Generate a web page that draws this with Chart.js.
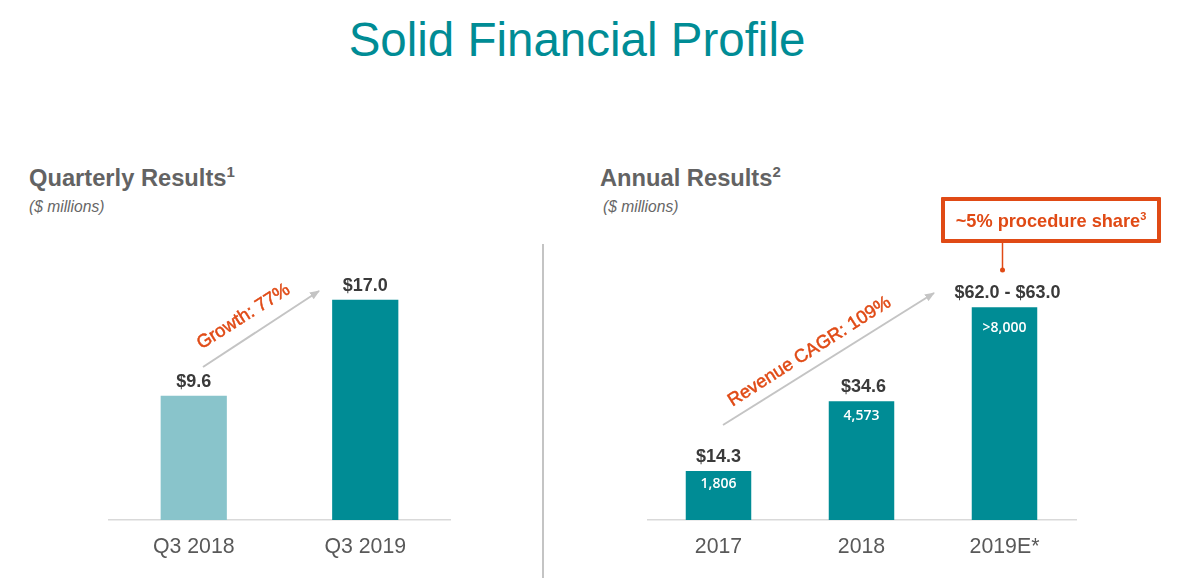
<!DOCTYPE html>
<html>
<head>
<meta charset="utf-8">
<title>Solid Financial Profile</title>
<script src="https://cdn.jsdelivr.net/npm/chart.js@4"></script>
<style>
    html, body { margin: 0; padding: 0; background: #fff; }
    body { position: relative; width: 1180px; height: 580px; overflow: hidden; font-family: 'Liberation Sans', Arial, sans-serif; }
    .abs { position: absolute; white-space: nowrap; }
    .title { left: 0; width: 1154px; top: 14px; text-align: center; font-size: 47.5px; line-height: 52px; color: #008c95; }
    .heading { top: 163px; font-size: 23.7px; line-height: 30px; font-weight: bold; color: #636363; -webkit-font-smoothing: antialiased; }
    .heading sup { font-size: 15px; font-weight: bold; line-height: 0; vertical-align: 9px; }
    .unit { top: 198px; font-size: 15.6px; line-height: 18px; font-style: italic; color: #666; }
    .divider { left: 542px; top: 244px; width: 2px; height: 334px; background: #c4c4c4; }
    .growth { font-size: 18.4px; line-height: 22px; color: #e04a15; transform: translate(-50%, -50%) rotate(-32.5deg); -webkit-text-stroke: 0.5px #e04a15; }
    .callout { left: 941px; top: 197px; width: 212px; height: 38px; border: 4px solid #e04a15; border-radius: 1px; font-size: 18.2px; line-height: 40px; font-weight: bold; color: #e04a15; text-align: center; }
    .callout sup { font-size: 11px; line-height: 0; vertical-align: 7px; }
    canvas { position: absolute; }
    svg { position: absolute; left: 0; top: 0; }
</style>
</head>
<body>
    <div class="abs title">Solid Financial Profile</div>

    <div class="abs heading" style="left:29px">Quarterly Results<sup>1</sup></div>
    <div class="abs unit" style="left:29px">($ millions)</div>
    <div class="abs heading" style="left:600px">Annual Results<sup>2</sup></div>
    <div class="abs unit" style="left:603px">($ millions)</div>

    <div class="abs divider"></div>

    <div style="position:absolute;left:108px;top:261px;width:343px;height:309px"><canvas id="quarterlyChart"></canvas></div>
    <div style="position:absolute;left:647px;top:261px;width:432px;height:309px"><canvas id="annualChart"></canvas></div>

    <svg width="1180" height="580">
        <defs>
            <marker id="arrowHead" markerWidth="10" markerHeight="8" refX="9" refY="4" orient="auto" markerUnits="userSpaceOnUse">
                <path d="M0,0 L10,4 L0,8 Z" fill="#c4c4c4"></path>
            </marker>
        </defs>
        <line x1="203" y1="367" x2="319" y2="291" stroke="#c4c4c4" stroke-width="2" marker-end="url(#arrowHead)"></line>
        <line x1="723" y1="425" x2="934" y2="293" stroke="#c4c4c4" stroke-width="2" marker-end="url(#arrowHead)"></line>
        <line x1="1002.5" y1="241" x2="1002.5" y2="270" stroke="#e04a15" stroke-width="1.5"></line>
        <circle cx="1002.5" cy="270" r="2.5" fill="#e04a15"></circle>
    </svg>

    <div class="abs growth" style="left:243px;top:316px">Growth: 77%</div>
    <div class="abs growth" style="left:809px;top:351px">Revenue CAGR: 109%</div>
    <div class="abs callout">~5% procedure share<sup>3</sup></div>

<script>
    // ── Data ────────────────────────────────────────────────────────────────────
    const quarterlyLabels = ['Q3 2018', 'Q3 2019'];
    const quarterlyValues = [9.6, 17.0];
    const quarterlyText   = ['$9.6', '$17.0'];

    const annualLabels = ['2017', '2018', '2019E*'];
    const annualValues = [14.3, 34.6, 62.0];
    const annualText   = ['$14.3', '$34.6', '$62.0 - $63.0'];
    const annualInner  = ['1,806', '4,573', '>8,000'];

    const teal = '#008c95';
    const tealLight = '#89c4cb';

    // ── Labels over and inside the bars ─────────────────────────────────────────
    const barTextPlugin = {
        id: 'barText',
        afterDatasetsDraw(chart, args, opts) {
            const ctx = chart.ctx;
            const bars = chart.getDatasetMeta(0).data;
            ctx.save();
            ctx.textAlign = 'center';
            bars.forEach((bar, i) => {
                ctx.textBaseline = 'bottom';
                ctx.font = "bold 18px 'Liberation Sans', Arial, sans-serif";
                ctx.fillStyle = '#3a3a3a';
                ctx.fillText(opts.top[i], bar.x + opts.topShift[i], bar.y - 5);
                if (opts.inner) {
                    ctx.textBaseline = 'middle';
                    ctx.font = "600 14px 'Open Sans', sans-serif";
                    ctx.fillStyle = '#fff';
                    ctx.fillText(opts.inner[i], bar.x, bar.y + opts.innerGap[i]);
                }
            });
            ctx.restore();
        }
    };

    function makeBarChart(canvasId, labels, values, colors, yMax, barPct, textOpts, padRight) {
        return new Chart(document.getElementById(canvasId), {
            type: 'bar',
            data: {
                labels: labels,
                datasets: [{
                    data: values,
                    backgroundColor: colors,
                    borderWidth: 0,
                    categoryPercentage: 1,
                    barPercentage: barPct
                }]
            },
            options: {
                responsive: true,
                maintainAspectRatio: false,
                animation: false,
                layout: { padding: { left: 0, right: padRight, top: 0, bottom: 0 } },
                plugins: {
                    legend: { display: false },
                    tooltip: { enabled: false },
                    barText: textOpts
                },
                scales: {
                    x: {
                        afterFit(scale) { scale.height = 50; },
                        grid: { display: false, drawTicks: false },
                        border: { color: '#d9d9d9', width: 1.5 },
                        ticks: {
                            color: '#595959',
                            padding: 14,
                            maxRotation: 0,
                            font: { family: "'Liberation Sans', Arial, sans-serif", size: 21.3 }
                        }
                    },
                    y: { display: false, min: 0, max: yMax }
                }
            },
            plugins: [barTextPlugin]
        });
    }

    makeBarChart('quarterlyChart', quarterlyLabels, quarterlyValues, [tealLight, teal], 20, 0.386,
        { top: quarterlyText, topShift: [0, 0], inner: null }, 0);
    makeBarChart('annualChart', annualLabels, annualValues, teal, 75.5, 0.458,
        { top: annualText, topShift: [0, 2, 3], inner: annualInner, innerGap: [13, 15, 21] }, 3);
</script>
</body>
</html>
